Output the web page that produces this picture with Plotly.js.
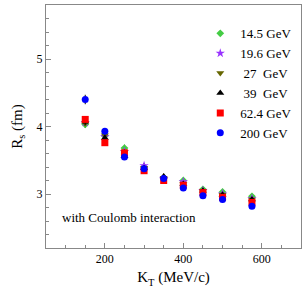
<!DOCTYPE html>
<html><head><meta charset="utf-8">
<script src="https://cdn.plot.ly/plotly-3.0.1.min.js"></script>
<style>html,body{margin:0;padding:0;background:#fff}#c{width:307px;height:299px}</style>
</head><body><div id="c"></div>
<script>
var kT = [150, 200, 250, 300, 350, 400, 450, 500, 575];
var seriesNames = ["14.5 GeV", "19.6 GeV", "\u00a027\u00a0\u00a0GeV", "\u00a039\u00a0\u00a0GeV", "62.4 GeV", "200 GeV"];
var rs_14p5 = [4.03, 3.86, 3.68, 3.40, 3.24, 3.20, 3.07, 3.03, 2.965];
var rs_19p6 = [4.06, 3.85, 3.63, 3.42, 3.23, 3.18, 3.05, 3.00, 2.93];
var rs_27   = [4.05, 3.87, 3.62, 3.39, 3.24, 3.15, 3.04, 2.99, 2.92];
var rs_39   = [4.07, 3.83, 3.56, 3.38, 3.26, 3.15, 3.05, 2.99, 2.92];
var rs_62p4 = [4.105, 3.76, 3.61, 3.345, 3.20, 3.13, 3.02, 2.95, 2.875];
var rs_200  = [4.40, 3.93, 3.55, 3.375, 3.23, 3.09, 2.975, 2.92, 2.82];
var err_14p5 = [0.05, 0.04, 0.05, 0.03, 0.03, 0.03, 0.03, 0.03, 0.03];
var err_19p6 = [0.04, 0.04, 0.04, 0.04, 0.03, 0.03, 0.03, 0.03, 0.03];
var err_27   = [0.04, 0.04, 0.04, 0.03, 0.03, 0.03, 0.03, 0.03, 0.03];
var err_39   = [0.05, 0.05, 0.05, 0.03, 0.04, 0.03, 0.03, 0.03, 0.03];
var err_62p4 = [0.04, 0.03, 0.03, 0.03, 0.03, 0.03, 0.03, 0.03, 0.03];
var err_200  = [0.07, 0.04, 0.03, 0.03, 0.03, 0.03, 0.02, 0.02, 0.02];

var styles = [
  {symbol:'diamond', color:'#44cc44', size:6},
  {symbol:'star', color:'#9933ff', size:7},
  {symbol:'triangle-down', color:'#666600', size:7},
  {symbol:'triangle-up', color:'#000000', size:7},
  {symbol:'square', color:'#ff0000', size:7},
  {symbol:'circle', color:'#0000ff', size:7}
];
var ys = [rs_14p5, rs_19p6, rs_27, rs_39, rs_62p4, rs_200];
var es = [err_14p5, err_19p6, err_27, err_39, err_62p4, err_200];
var traces = ys.map(function(y, i){
  return {x: kT, y: y, type:'scatter', mode:'markers', name: seriesNames[i],
    marker:{symbol:styles[i].symbol, color:styles[i].color, size:styles[i].size, line:{width:0}},
    error_y:{type:'data', array: es[i], visible:true, color:'#000', thickness:1, width:0}};
});
var font = {family:'"Liberation Serif","DejaVu Serif",serif', color:'#000'};
var layout = {
  width:307, height:299,
  margin:{l:46, r:6, t:5, b:51},
  paper_bgcolor:'#fff', plot_bgcolor:'#fff',
  font: Object.assign({size:12}, font),
  showlegend:true,
  legend:{x:0.605, y:0.945, xanchor:'left', yanchor:'top', bgcolor:'rgba(0,0,0,0)', borderwidth:0,
    font:Object.assign({size:13}, font), itemwidth:30},
  xaxis:{range:[50,700], tick0:0, dtick:200, ticks:'inside', ticklen:5, tickcolor:'#888',
    showline:true, linecolor:'#888', linewidth:1, mirror:true, showgrid:false, zeroline:false,
    minor:{dtick:50, ticks:'inside', ticklen:3, tickcolor:'#888', showgrid:false},
    tickfont:Object.assign({size:12}, font),
    title:{text:'K<sub>T</sub> (MeV/c)', font:Object.assign({size:15}, font), standoff:6}},
  yaxis:{range:[2.2,5.8], tick0:0, dtick:1, ticks:'inside', ticklen:5, tickcolor:'#888',
    showline:true, linecolor:'#888', linewidth:1, mirror:true, showgrid:false, zeroline:false,
    minor:{dtick:0.2, ticks:'inside', ticklen:3, tickcolor:'#888', showgrid:false},
    tickfont:Object.assign({size:12}, font),
    title:{text:'R<sub>s</sub> (fm)', font:Object.assign({size:15}, font), standoff:10}},
  annotations:[{xref:'paper', yref:'paper', x:0.055, y:0.125, xanchor:'left', yanchor:'middle',
    showarrow:false, text:'with Coulomb interaction', font:Object.assign({size:13}, font)}]
};
Plotly.newPlot('c', traces, layout, {displayModeBar:false, staticPlot:true});
</script></body></html>
